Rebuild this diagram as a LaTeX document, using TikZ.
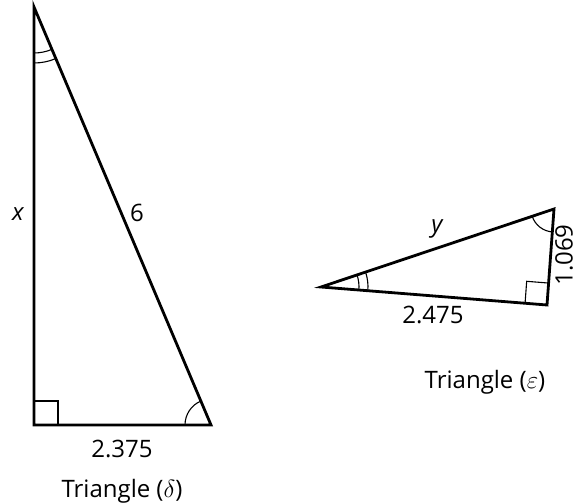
\documentclass[tikz,border=0pt]{standalone}
\usepackage{fontspec}
\setmainfont{Open Sans}
\usetikzlibrary{angles,calc}
\begin{document}
\begin{tikzpicture}[x=1pt,y=1pt,
  tri/.style={line width=2.8pt,line join=miter},
  anglemark/.style={line width=1.1pt},
  lbl/.style={font=\fontsize{24}{28}\selectfont,inner sep=0pt}]
\useasboundingbox (0,0) rectangle (578,503);
% Triangle delta
\coordinate (A) at (34,496);
\coordinate (B) at (34,78);
\coordinate (C) at (211,78);
\draw[tri] (A) -- (B) -- (C) -- cycle;
\draw[anglemark] (34,102) -- (58,102) -- (58,78);
\pic[draw,anglemark,angle radius=46pt] {angle = B--A--C};
\pic[draw,anglemark,angle radius=56pt] {angle = B--A--C};
\pic[draw,anglemark,angle radius=26pt] {angle = A--C--B};
% Triangle epsilon
\coordinate (P) at (321,216);
\coordinate (Q) at (554,294);
\coordinate (R) at (547,198);
\draw[tri] (P) -- (Q) -- (R) -- cycle;
\coordinate (r1) at ($(R)!22pt!(P)$);
\coordinate (r2) at ($(R)!22pt!(Q)$);
\draw[anglemark] (r1) -- ($(r1)+(r2)-(R)$) -- (r2);
\pic[draw,anglemark,angle radius=38pt] {angle = R--P--Q};
\pic[draw,anglemark,angle radius=47pt] {angle = R--P--Q};
\pic[draw,anglemark,angle radius=23pt] {angle = P--Q--R};
% labels
\node[lbl] (lx) at (18,289) {\itshape x};
\node[lbl] (l6) at (137,290) {6};
\node[lbl] (l2375) at (122,54) {2.375};
\node[lbl] (td) at (122,12) {Triangle ($\delta$)};
\node[lbl] (ly) at (437,274) {\itshape y};
\node[lbl,rotate=90] (l1069) at (564,248) {1.069};
\node[lbl] (l2475) at (433,188) {2.475};
\node[lbl] (te) at (485,121) {Triangle ($\varepsilon$)};
\end{tikzpicture}
\end{document}
